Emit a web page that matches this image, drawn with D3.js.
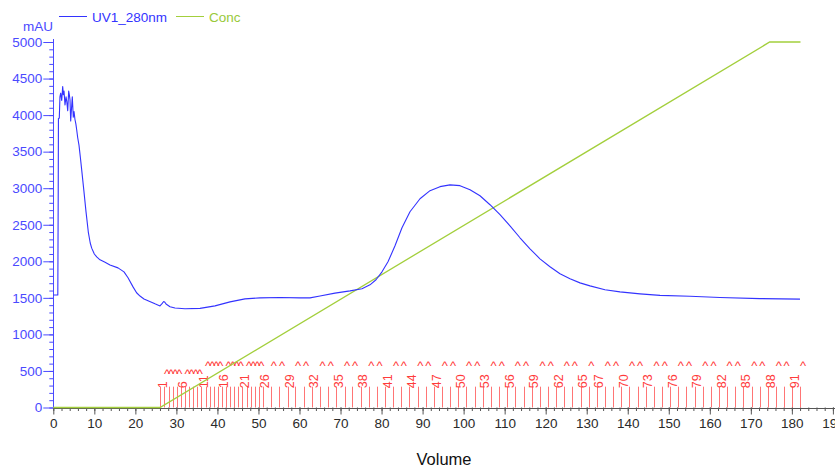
<!DOCTYPE html>
<html>
<head>
<meta charset="utf-8">
<script src="https://cdn.jsdelivr.net/npm/d3@7"></script>
<style>
  body { margin: 0; background: #fff; }
  svg { display: block; }
  text { font-family: "Liberation Sans", Arial, sans-serif; }
</style>
</head>
<body>
<svg id="chart" width="835" height="468"></svg>
<script>
// UV 280 nm trace: elution volume (mL) and absorbance (mAU)
const uvVolume = [0.0, 1.1, 1.2, 1.25, 1.46, 1.62, 1.80, 2.05, 2.29, 2.45, 2.61, 2.85, 3.10, 3.30, 3.51, 3.75, 3.90, 4.07, 4.24, 4.45, 4.63, 4.87, 5.05, 5.28, 5.50, 5.70, 5.95, 6.26, 6.60, 6.92, 7.48, 7.97, 8.53, 9.00, 9.36, 10.0, 10.58, 11.38, 12.5, 13.82, 15.77, 17.23, 18.21, 19.43, 20.3, 21.13, 22.1, 23.08, 24.78, 26.0, 26.5, 26.9, 27.2, 27.47, 28.44, 29.66, 32.1, 35.76, 39.41, 43.07, 46.72, 50.38, 55.25, 60.13, 62.56, 65.0, 68.65, 72.31, 75.23, 77.18, 78.65, 80.11, 81.57, 83.28, 84.98, 86.93, 89.37, 91.81, 94.24, 96.68, 99.12, 101.56, 103.99, 106.43, 108.87, 111.3, 113.74, 116.18, 118.61, 121.05, 123.49, 125.93, 128.36, 130.8, 134.45, 138.11, 142.99, 147.86, 155.17, 162.48, 172.23, 181.98];
const uvAbs = [1540, 1540, 2950, 3950, 3960, 4250, 4300, 4200, 4390, 4280, 4330, 4140, 4250, 4180, 4060, 4330, 4280, 4210, 3920, 4100, 4250, 3970, 4050, 3940, 3880, 3800, 3690, 3590, 3420, 3250, 2950, 2680, 2400, 2250, 2180, 2100, 2060, 2020, 1990, 1950, 1910, 1855, 1775, 1650, 1570, 1525, 1485, 1460, 1418, 1390, 1420, 1450, 1440, 1415, 1378, 1362, 1350, 1356, 1390, 1445, 1486, 1500, 1505, 1500, 1500, 1525, 1565, 1595, 1625, 1678, 1747, 1856, 1993, 2212, 2459, 2678, 2856, 2966, 3021, 3045, 3035, 2980, 2897, 2774, 2637, 2486, 2322, 2171, 2034, 1925, 1829, 1760, 1705, 1664, 1610, 1582, 1555, 1534, 1521, 1505, 1490, 1482];

// Gradient concentration (% B)
const concVolume = [0, 26.0, 174.6, 182.1];
const concPercent = [0, 0, 100, 100];

// Fraction start volumes (mL), fractions 1..92
const fractionVolume = [26.1, 27.1, 28.1, 29.1, 30.1, 31.1, 32.1, 33.1, 34.1, 35.1, 36.1, 37.1, 38.1, 39.1, 40.1, 41.1, 42.1, 43.1, 44.1, 45.1, 46.1, 47.1, 48.1, 49.1, 50.1,
  51.1, 53.1, 55.1, 57.1, 59.0, 61.0, 63.0, 65.0, 67.0, 69.0, 71.0, 72.9, 74.9, 76.9, 78.9, 80.9, 82.9, 84.8, 86.8, 88.8, 90.8, 92.8, 94.8, 96.8, 98.7, 100.7,
  102.7, 104.7, 106.7, 108.7, 110.6, 112.6, 114.6, 116.6, 118.6, 120.6, 122.6, 124.5, 126.5, 128.5, 130.5, 132.5, 134.5, 136.5, 138.4, 140.4, 142.4, 144.4,
  146.4, 148.4, 150.3, 152.3, 154.3, 156.3, 158.3, 160.3, 162.3, 164.2, 166.2, 168.2, 170.2, 172.2, 174.2, 176.2, 178.1, 180.1, 182.1];
// Fractions whose number is printed; the others get a caret
const labeledFractions = [1, 6, 11, 16, 21, 26, 29, 32, 35, 38, 41, 44, 47, 50, 53, 56, 59, 62, 65, 67, 70, 73, 76, 79, 82, 85, 88, 91];

// Axis ticks
const xMajorTicks = [0, 10, 20, 30, 40, 50, 60, 70, 80, 90, 100, 110, 120, 130, 140, 150, 160, 170, 180, 190];
const yMajorTicks = [0, 500, 1000, 1500, 2000, 2500, 3000, 3500, 4000, 4500, 5000];

const UV_COLOR = "#3333ff";
const AXIS_BLUE = "#4a4aff";
const CONC_COLOR = "#a3cf3c";
const FRAC_COLOR = "#ff3b3b";

const svg = d3.select("#chart");

const x = d3.scaleLinear().domain([0, 190]).range([53.3, 832.9]);
const y = d3.scaleLinear().domain([0, 5000]).range([407.5, 42]);
const yConc = d3.scaleLinear().domain([0, 100]).range([407.5, 42]);

// ---- X axis ----
const gx = svg.append("g").attr("transform", `translate(0,${y(0)})`);
gx.call(d3.axisBottom(x).tickValues(d3.range(0, 191, 2)).tickSize(3.5).tickSizeOuter(0).tickFormat(""));
gx.call(g => g.select(".domain").remove());
const gxMaj = svg.append("g").attr("transform", `translate(0,${y(0)})`);
gxMaj.call(d3.axisBottom(x).tickValues(xMajorTicks).tickSize(7).tickSizeOuter(0).tickPadding(4).tickFormat(d3.format("d")));
gxMaj.select(".domain").remove();
svg.append("line")
  .attr("x1", x(0)).attr("x2", 835)
  .attr("y1", Math.round(y(0)) + 0.5).attr("y2", Math.round(y(0)) + 0.5)
  .attr("stroke", "#555");
svg.selectAll("g line").attr("stroke", "#555");
gxMaj.selectAll("text").attr("fill", "#2a2a2a").attr("font-size", 13.5)
  .attr("font-family", "Liberation Sans, Arial, sans-serif");

// ---- Y axis ----
const gyMin = svg.append("g").attr("transform", `translate(${x(0)},0)`);
gyMin.call(d3.axisLeft(y).tickValues(d3.range(0, 5001, 100)).tickSize(4).tickSizeOuter(0).tickFormat(""));
gyMin.select(".domain").remove();
const gy = svg.append("g").attr("transform", `translate(${x(0)},0)`);
gy.call(d3.axisLeft(y).tickValues(yMajorTicks).tickSize(10).tickSizeOuter(0).tickPadding(1).tickFormat(d3.format("d")));
gy.select(".domain").remove();
gyMin.selectAll("line").attr("stroke", AXIS_BLUE);
gy.selectAll("line").attr("stroke", AXIS_BLUE);
gy.selectAll("text").attr("fill", AXIS_BLUE).attr("font-size", 13.5)
  .attr("font-family", "Liberation Sans, Arial, sans-serif");
svg.append("line")
  .attr("x1", Math.round(x(0)) + 0.5).attr("x2", Math.round(x(0)) + 0.5)
  .attr("y1", y(0)).attr("y2", y(5000) - 3)
  .attr("stroke", AXIS_BLUE);

svg.append("text")
  .attr("x", 53).attr("y", 31)
  .attr("text-anchor", "end")
  .attr("font-size", 13.5)
  .attr("fill", AXIS_BLUE)
  .text("mAU");

// ---- Fraction marks ----
const FRAC_TOP = 285;
const fractions = fractionVolume.map((v, i) => ({ n: i + 1, v }));
svg.append("g").selectAll("line").data(fractions).join("line")
  .attr("x1", d => Math.round(x(d.v)) + 0.5)
  .attr("x2", d => Math.round(x(d.v)) + 0.5)
  .attr("y1", y(0))
  .attr("y2", y(FRAC_TOP))
  .attr("stroke", FRAC_COLOR)
  .attr("stroke-opacity", 0.7);

const labeled = fractions.filter(d => labeledFractions.includes(d.n));
svg.append("g").selectAll("text").data(labeled).join("text")
  .attr("transform", d => `translate(${x(d.v) + 6.5},${y(FRAC_TOP) + 1.5}) rotate(-90)`)
  .attr("font-size", 12.5)
  .attr("fill", FRAC_COLOR)
  .text(d => d.n);

// Unlabelled fractions show a caret, sitting just above the preceding number
let lastLabel = 1;
const hidden = [];
fractions.forEach(d => {
  if (labeledFractions.includes(d.n)) lastLabel = d.n;
  else hidden.push({ ...d, after: String(lastLabel).length });
});
svg.append("g").selectAll("text").data(hidden).join("text")
  .attr("x", d => x(d.v) - 0.5)
  .attr("y", d => d.after === 1 ? 378 : 370)
  .attr("font-size", 13)
  .attr("fill", FRAC_COLOR)
  .text("^");

// ---- Concentration line ----
const concData = concVolume.map((v, i) => [v, concPercent[i]]);
svg.append("path")
  .datum(concData)
  .attr("fill", "none")
  .attr("stroke", CONC_COLOR)
  .attr("stroke-width", 1.3)
  .attr("d", d3.line().x(d => x(d[0])).y(d => yConc(d[1])));

// ---- UV trace ----
const uvData = uvVolume.map((v, i) => [v, uvAbs[i]]);
svg.append("path")
  .datum(uvData)
  .attr("fill", "none")
  .attr("stroke", UV_COLOR)
  .attr("stroke-width", 1.1)
  .attr("stroke-linejoin", "round")
  .attr("d", d3.line().x(d => x(d[0])).y(d => y(d[1])));

// ---- Legend ----
const legend = svg.append("g");
legend.append("line").attr("x1", 59).attr("x2", 87).attr("y1", 16.5).attr("y2", 16.5)
  .attr("stroke", UV_COLOR).attr("stroke-width", 1);
legend.append("text").attr("x", 92).attr("y", 21.5).attr("font-size", 13.5)
  .attr("fill", UV_COLOR).text("UV1_280nm");
legend.append("line").attr("x1", 176).attr("x2", 204).attr("y1", 16.5).attr("y2", 16.5)
  .attr("stroke", CONC_COLOR).attr("stroke-width", 1);
legend.append("text").attr("x", 209).attr("y", 21.5).attr("font-size", 13.5)
  .attr("fill", "#99c93a").text("Conc");

// ---- X title ----
svg.append("text")
  .attr("x", 444).attr("y", 465)
  .attr("text-anchor", "middle")
  .attr("font-family", "'Open Sans', 'Noto Sans', sans-serif")
  .attr("font-size", 16.5)
  .attr("fill", "#111")
  .text("Volume");
</script>
</body>
</html>
